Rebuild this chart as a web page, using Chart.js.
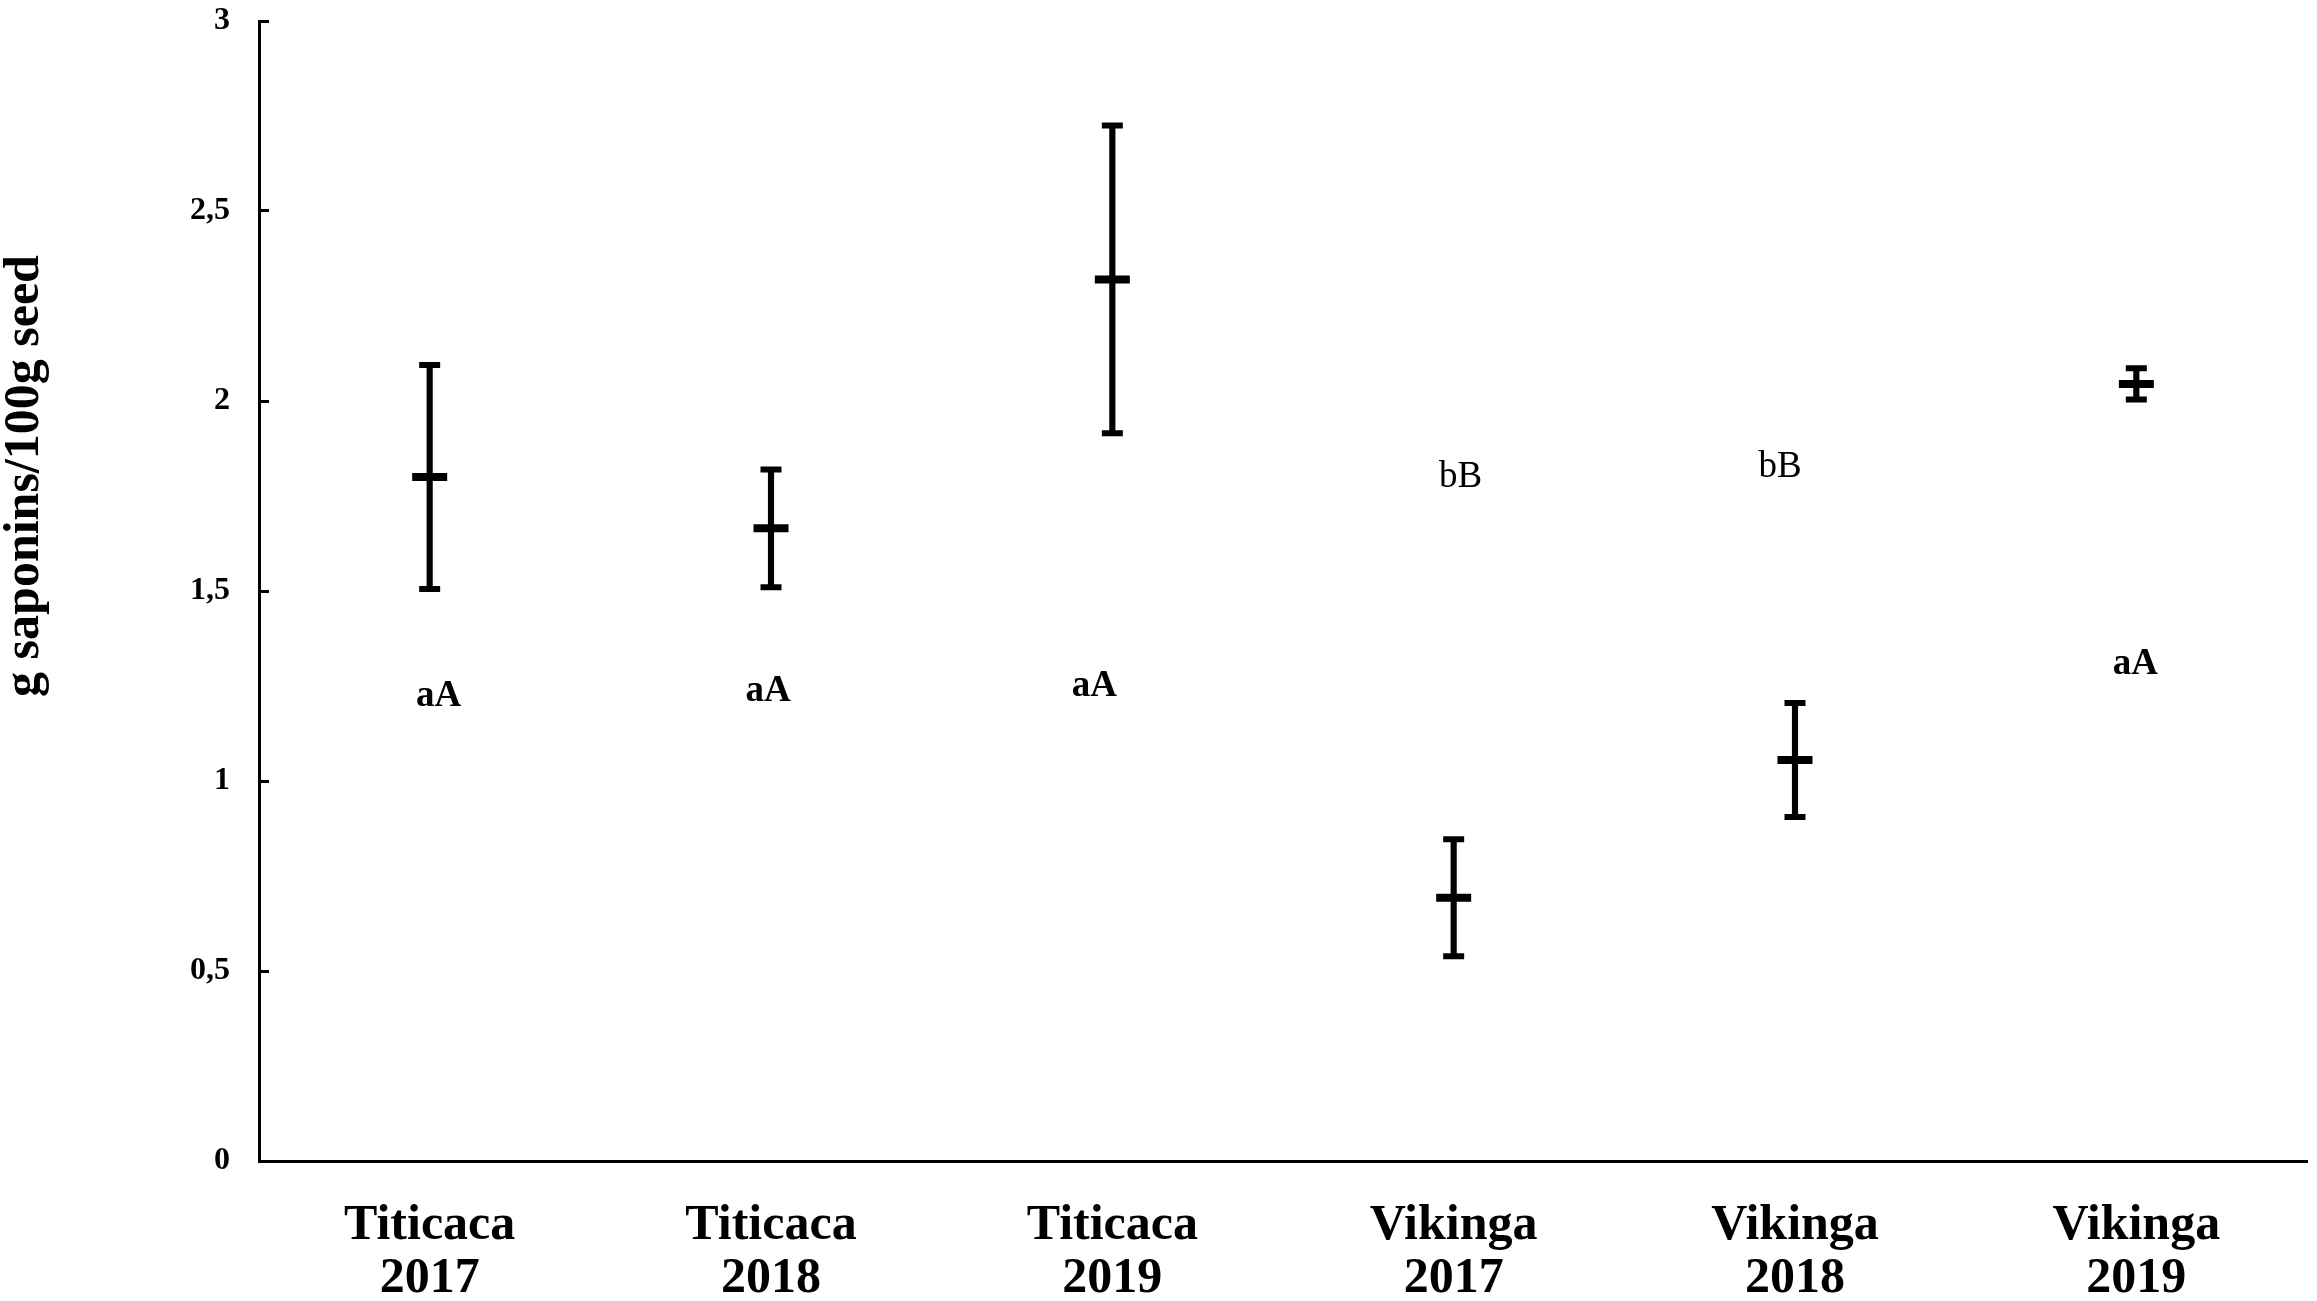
<!DOCTYPE html>
<html lang="en">
<head>
  <meta charset="UTF-8">
  <title>Saponins per 100g seed</title>
  <script src="https://cdn.jsdelivr.net/npm/chart.js"></script>
  <style>
    html, body {
      margin: 0;
      padding: 0;
      background: #ffffff;
      overflow: hidden;
    }
    canvas {
      display: block;
    }
  </style>
</head>
<body>
  <canvas id="saponinChart" width="2317" height="1301" style="width:2317px;height:1301px"></canvas>

  <script>
    // data
    const categories = [
      ['Titicaca', '2017'], ['Titicaca', '2018'], ['Titicaca', '2019'],
      ['Vikinga', '2017'], ['Vikinga', '2018'], ['Vikinga', '2019']
    ];
    const means = [1.80, 1.665, 2.32, 0.693, 1.055, 2.045];
    const errors = [0.295, 0.155, 0.405, 0.154, 0.15, 0.041];
    const letters = ['aA', 'aA', 'aA', 'bB', 'bB', 'aA'];
    const letterBold = [true, true, true, false, false, true];
    const letterValues = [1.222, 1.237, 1.249, 1.80, 1.825, 1.307];
    const yTicks = [0, 0.5, 1, 1.5, 2, 2.5, 3];

    const lows = means.map((m, i) => m - errors[i]);
    const highs = means.map((m, i) => m + errors[i]);

    const serif = "'Liberation Serif', 'Times New Roman', serif";

    // y title and significance letters
    const extraText = {
      id: 'extraText',
      afterDatasetsDraw(chart) {
        const ctx = chart.ctx;
        const xs = chart.scales.x;
        const ys = chart.scales.y;
        const nudge = [9, -3, -18, 7, -15, -1];
        ctx.save();
        ctx.fillStyle = '#000';
        ctx.textAlign = 'center';
        ctx.textBaseline = 'middle';
        letters.forEach((t, i) => {
          ctx.font = (letterBold[i] ? 'bold ' : '') + '37px ' + serif;
          ctx.fillText(t, xs.getPixelForValue(i) + nudge[i], ys.getPixelForValue(letterValues[i]));
        });
        ctx.translate(25, 476);
        ctx.rotate(-Math.PI / 2);
        ctx.font = 'bold 50px ' + serif;
        ctx.fillText('g saponins/100g seed', 0, 0);
        ctx.restore();
      }
    };

    new Chart(document.getElementById('saponinChart'), {
      type: 'bar',
      data: {
        labels: categories,
        datasets: [
          {
            label: 'range',
            data: lows.map((l, i) => [l, highs[i]]),
            backgroundColor: '#000',
            barThickness: 5.5,
            order: 3
          },
          {
            type: 'line',
            label: 'low',
            data: lows,
            showLine: false,
            pointStyle: 'line',
            pointRadius: 10.5,
            pointBorderWidth: 6,
            borderColor: '#000',
            order: 2
          },
          {
            type: 'line',
            label: 'high',
            data: highs,
            showLine: false,
            pointStyle: 'line',
            pointRadius: 10.5,
            pointBorderWidth: 6,
            borderColor: '#000',
            order: 2
          },
          {
            type: 'line',
            label: 'mean',
            data: means,
            showLine: false,
            pointStyle: 'line',
            pointRadius: 17.5,
            pointBorderWidth: 8,
            borderColor: '#000',
            order: 1
          }
        ]
      },
      options: {
        responsive: false,
        animation: false,
        devicePixelRatio: 1,
        layout: {
          autoPadding: false,
          padding: { left: 0, top: 21, right: 10, bottom: 0 }
        },
        plugins: {
          legend: { display: false },
          tooltip: { enabled: false }
        },
        scales: {
          x: {
            offset: true,
            grid: { display: false },
            border: { display: true, color: '#000', width: 3 },
            ticks: {
              color: '#000',
              padding: 30,
              maxRotation: 0,
              autoSkip: false,
              font: { family: serif, size: 50, weight: 'bold', lineHeight: 1.07 }
            },
            afterFit(scale) {
              scale.height = 140;
              scale.paddingLeft = 0;
              scale.paddingRight = 0;
            }
          },
          y: {
            min: 0,
            max: 3,
            afterBuildTicks(scale) {
              scale.ticks = yTicks.map(v => ({ value: v }));
            },
            grid: {
              display: true,
              drawOnChartArea: false,
              drawTicks: true,
              tickLength: -10,
              color: '#000',
              lineWidth: 3
            },
            border: { display: true, color: '#000', width: 3 },
            ticks: {
              color: '#000',
              padding: 39,
              font: { family: serif, size: 32, weight: 'bold' },
              callback: v => String(v).replace('.', ',')
            },
            afterFit(scale) {
              scale.width = 259;
              scale.paddingTop = 0;
              scale.paddingBottom = 0;
            }
          }
        }
      },
      plugins: [extraText]
    });
  </script>
</body>
</html>
